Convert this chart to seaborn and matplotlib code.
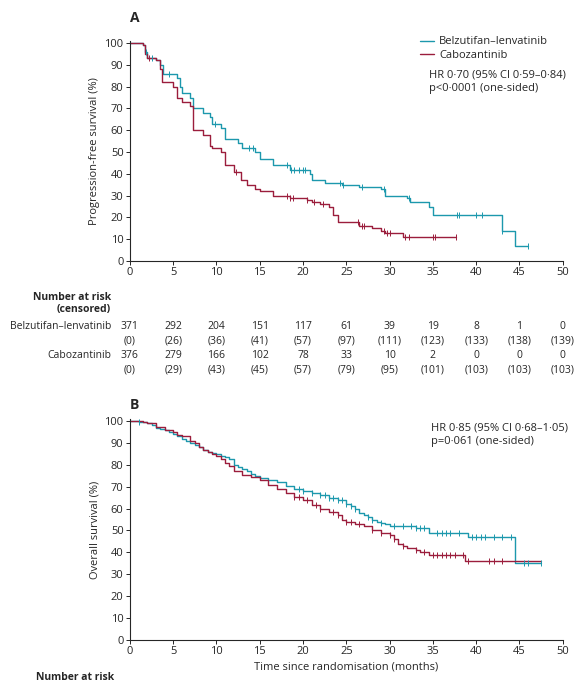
import numpy as np
import pandas as pd
import matplotlib
matplotlib.use("Agg")
import matplotlib.pyplot as plt
import matplotlib.transforms as mtransforms
import seaborn as sns

sns.set_theme(style="ticks")
plt.rcParams['font.family'] = ['Open Sans', 'DejaVu Sans']

TEAL = "#1c98ad"
RED = "#9b1d3c"

# PFS step data (months, %)
pfs_bel_t = [0, 1.5, 1.7, 2, 3, 3.5, 3.8, 5.5, 5.8, 6, 7, 7.3, 8.5, 9.2, 9.5, 10.5, 11, 12.5, 13, 14.5, 15, 16.5, 18.5, 20.8, 21, 22.5, 24.5, 26.5, 29, 29.5, 32, 32.3, 34.5, 35, 43, 44.5, 46]
pfs_bel_s = [100, 99, 96, 93, 92, 90, 86, 84, 80, 77, 75, 70, 68, 66, 63, 61, 56, 54, 52, 50, 47, 44, 42, 40, 37, 36, 35, 34, 33, 30, 29, 27, 25, 21, 14, 7, 7]
pfs_cab_t = [0, 1.5, 1.7, 2, 3, 3.5, 3.7, 5, 5.5, 6, 7, 7.3, 8.5, 9.2, 9.5, 10.5, 11, 12, 12.8, 13.5, 14.5, 15, 16.5, 18.5, 20.5, 21, 22, 23, 23.5, 24, 26.5, 28, 29, 29.5, 31.5, 37.7]
pfs_cab_s = [100, 99, 95, 93, 92, 88, 82, 80, 75, 73, 71, 60, 58, 53, 52, 50, 44, 41, 37, 35, 33, 32, 30, 29, 28, 27, 26, 25, 21, 18, 16, 15, 14, 13, 11, 11]
pfs_bel_cens = [1.9, 2.5, 4.5, 9.8, 13.8, 14.2, 18.2, 18.6, 19.0, 19.5, 20.0, 20.2, 24.3, 24.6, 26.8, 29.3, 32.2, 37.8, 38, 40, 40.7, 43, 46]
pfs_cab_cens = [2.2, 12.3, 18.2, 18.5, 18.8, 20.5, 21.3, 22.3, 26.3, 26.8, 27.0, 29.3, 29.7, 30.0, 31.8, 32.2, 35.0, 35.3, 37.7]

# OS step data
os_bel_t = [0, 1, 2, 2.5, 3, 3.5, 4, 4.5, 5, 5.5, 6, 6.5, 7, 7.5, 8, 8.5, 9, 9.5, 10, 10.5, 11, 11.5, 12, 12.5, 13, 13.5, 14, 14.5, 15, 16, 17, 18, 19, 20, 21, 22, 23, 24, 25, 25.5, 26, 26.5, 27, 27.5, 28, 28.5, 29, 29.5, 30, 33, 34.5, 39, 44.5, 47.5]
os_bel_s = [100, 99.5, 99, 98, 97, 96.5, 96, 95, 94, 93, 92, 91, 90, 89, 88, 87, 86, 85.5, 85, 84, 83.5, 82.5, 80, 79, 78, 77, 76, 75, 74, 73, 72, 70.5, 69, 68, 67, 66, 65, 64, 62, 61, 60, 58, 57, 56, 55, 54, 53.5, 53, 52, 51, 49, 47, 35, 35]
os_cab_t = [0, 1.5, 2, 3, 4, 5, 5.5, 6, 7, 7.5, 8, 8.5, 9, 9.5, 10, 10.5, 11, 11.5, 12, 13, 14, 15, 16, 17, 18, 19, 20, 21, 22, 23, 24, 24.5, 25, 26, 27, 28, 29, 30, 30.5, 31, 31.5, 32, 33, 33.5, 34.5, 38.7, 47.5]
os_cab_s = [100, 99.5, 99, 97.5, 96, 95, 93.5, 93, 91, 90, 88, 87, 86, 85, 84, 82.5, 81, 79.5, 77, 75.5, 74.5, 73, 71, 69, 67, 65.5, 64, 61.5, 60, 58.5, 57, 55, 54, 53, 52, 50, 49, 48, 46, 44, 43, 42, 41, 40, 39, 36, 36]
os_bel_cens = [1, 19.5, 20, 21, 22, 22.5, 23, 23.5, 24, 24.5, 25, 25.5, 26, 27.5, 28, 29, 30.5, 31.5, 32.5, 33, 33.5, 34, 35.5, 36, 36.5, 37, 38, 39.5, 40, 40.5, 41, 42, 43, 44, 45.5, 46, 47.5]
os_cab_cens = [19, 19.5, 20.5, 21.5, 22, 23.5, 24, 25, 25.5, 26.5, 28, 29, 30, 30.5, 31.5, 33, 34, 35, 35.5, 36, 36.5, 37, 37.5, 38.5, 39, 41.5, 42, 43]

risk_times = [0, 5, 10, 15, 20, 25, 30, 35, 40, 45, 50]
pfs_bel_risk = ["371", "292", "204", "151", "117", "61", "39", "19", "8", "1", "0"]
pfs_bel_cen = ["(0)", "(26)", "(36)", "(41)", "(57)", "(97)", "(111)", "(123)", "(133)", "(138)", "(139)"]
pfs_cab_risk = ["376", "279", "166", "102", "78", "33", "10", "2", "0", "0", "0"]
pfs_cab_cen = ["(0)", "(29)", "(43)", "(45)", "(57)", "(79)", "(95)", "(101)", "(103)", "(103)", "(103)"]

def surv_at(ts, ss, x):
    idx = np.searchsorted(np.array(ts), np.array(x), side="right") - 1
    return np.array(ss)[idx]

fig = plt.figure(figsize=(5.85, 6.8), dpi=100)
axA = fig.add_axes([0.222, 0.616, 0.74, 0.324])
axB = fig.add_axes([0.222, 0.059, 0.74, 0.325])

def draw(ax, bt, bs, ct, cs, bcens, ccens, labels):
    for t, s, cens, col, lab in [(bt, bs, bcens, TEAL, labels[0]), (ct, cs, ccens, RED, labels[1])]:
        df = pd.DataFrame({"t": t, "s": s})
        sns.lineplot(data=df, x="t", y="s", drawstyle="steps-post", color=col, lw=1.0, ax=ax, label=lab)
        ax.scatter(cens, surv_at(t, s, cens), marker="|", s=18, color=col, lw=0.7, zorder=3)
    ax.set_xlim(0, 50)
    ax.set_ylim(0, 101)
    ax.set_xticks(range(0, 51, 5))
    ax.set_yticks(range(0, 101, 10))
    ax.tick_params(labelsize=8, length=3, width=0.7, pad=1.5)
    for sp in ["left", "bottom"]:
        ax.spines[sp].set_linewidth(0.8)
    sns.despine(ax=ax)
    ax.set_xlabel("")

draw(axA, pfs_bel_t, pfs_bel_s, pfs_cab_t, pfs_cab_s, pfs_bel_cens, pfs_cab_cens, ["Belzutifan–lenvatinib", "Cabozantinib"])
axA.set_ylabel("Progression-free survival (%)", fontsize=8, labelpad=3)
leg = axA.legend(loc="upper left", bbox_to_anchor=(0.66, 1.04), frameon=False, fontsize=8, handlelength=1.3, handletextpad=0.4, borderaxespad=0, labelspacing=0.2)
axA.text(0.69, 0.87, "HR 0·70 (95% CI 0·59–0·84)\np<0·0001 (one-sided)", transform=axA.transAxes, fontsize=8, va="top", linespacing=1.3)

draw(axB, os_bel_t, os_bel_s, os_cab_t, os_cab_s, os_bel_cens, os_cab_cens, [None, None])
if axB.get_legend():
    axB.get_legend().remove()
axB.set_ylabel("Overall survival (%)", fontsize=8, labelpad=3)
axB.set_xlabel("Time since randomisation (months)", fontsize=8, labelpad=3)
axB.text(0.695, 0.985, "HR 0·85 (95% CI 0·68–1·05)\np=0·061 (one-sided)", transform=axB.transAxes, fontsize=8, va="top", linespacing=1.3)

fig.text(130/585, 1 - 18/680, "A", fontsize=10, fontweight="bold", va="center")
fig.text(130/585, 1 - 405/680, "B", fontsize=10, fontweight="bold", va="center")

# risk table
tr = mtransforms.blended_transform_factory(axA.transData, fig.transFigure)
def fy(px):
    return 1 - px / 680
FS = 7.5
fig.text(111/585, fy(297), "Number at risk", fontsize=FS, fontweight="bold", va="center", ha="right")
fig.text(111/585, fy(310), "(censored)", fontsize=FS, fontweight="bold", va="center", ha="right")
fig.text(111/585, fy(326), "Belzutifan–lenvatinib", fontsize=FS, va="center", ha="right")
fig.text(111/585, fy(355), "Cabozantinib", fontsize=FS, va="center", ha="right")
for i, x in enumerate(risk_times):
    axA.text(x, fy(326), pfs_bel_risk[i], transform=tr, fontsize=FS, ha="center", va="center")
    axA.text(x, fy(341), pfs_bel_cen[i], transform=tr, fontsize=FS, ha="center", va="center")
    axA.text(x, fy(355), pfs_cab_risk[i], transform=tr, fontsize=FS, ha="center", va="center")
    axA.text(x, fy(370), pfs_cab_cen[i], transform=tr, fontsize=FS, ha="center", va="center")
fig.text(36/585, fy(677), "Number at risk", fontsize=FS, fontweight="bold", va="center")

fig.savefig("out.png", dpi=100)
